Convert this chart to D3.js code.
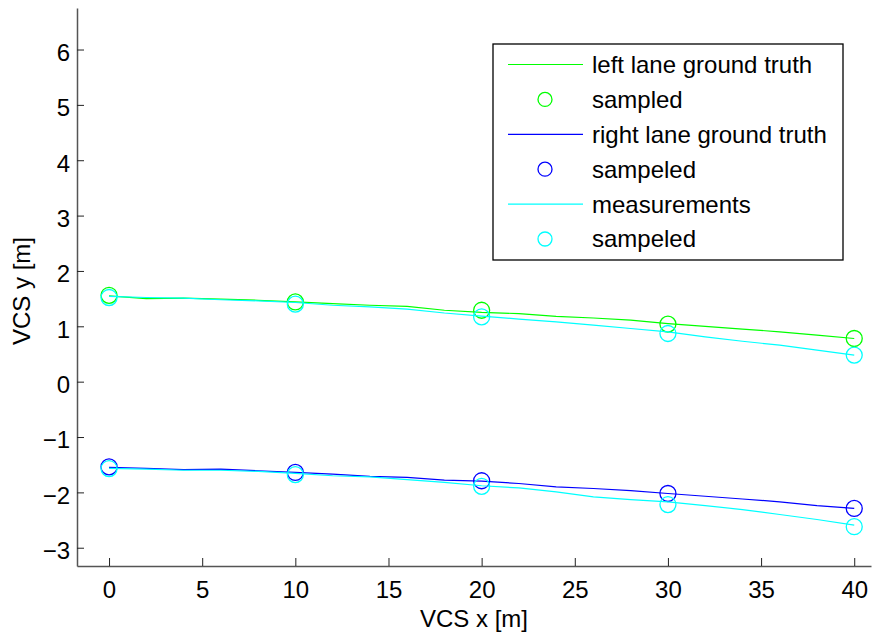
<!DOCTYPE html>
<html>
<head>
<meta charset="utf-8">
<script src="https://cdn.jsdelivr.net/npm/d3@7"></script>
<style>
    body { margin: 0; background: #fff; }
    svg text { font-family: "Liberation Sans", Arial, sans-serif; }
</style>
</head>
<body>
<script>
const width = 872, height = 633;

// line samples along VCS x [m]
const lineX = [0, 2, 4, 6, 8, 10, 12, 14, 16, 18, 20, 22, 24, 26, 28, 30, 32, 34, 36, 38, 40];
const leftTruth = [1.55, 1.50, 1.51, 1.49, 1.47, 1.44, 1.41, 1.38, 1.36, 1.29, 1.25, 1.23, 1.18, 1.15, 1.11, 1.05, 1.00, 0.95, 0.90, 0.84, 0.78];
const rightTruth = [-1.55, -1.565, -1.59, -1.58, -1.61, -1.64, -1.67, -1.71, -1.73, -1.78, -1.795, -1.84, -1.90, -1.93, -1.97, -2.02, -2.07, -2.12, -2.17, -2.24, -2.29];
const leftMeas = [1.54, 1.52, 1.51, 1.48, 1.46, 1.43, 1.38, 1.35, 1.31, 1.24, 1.185, 1.13, 1.08, 1.02, 0.96, 0.90, 0.81, 0.73, 0.66, 0.57, 0.48];
const rightMeas = [-1.565, -1.58, -1.60, -1.60, -1.62, -1.655, -1.70, -1.72, -1.77, -1.82, -1.88, -1.92, -1.99, -2.08, -2.13, -2.17, -2.24, -2.31, -2.40, -2.49, -2.59];

// sampled points
const sampleX = [0, 10, 20, 30, 40];
const leftSampled = [1.56, 1.44, 1.29, 1.04, 0.78];
const rightSampled = [-1.54, -1.64, -1.79, -2.02, -2.29];
const leftMeasSampled = [1.52, 1.40, 1.17, 0.87, 0.48];
const rightMeasSampled = [-1.57, -1.68, -1.89, -2.22, -2.62];

const xTicks = [0, 5, 10, 15, 20, 25, 30, 35, 40];
const yTicks = [-3, -2, -1, 0, 1, 2, 3, 4, 5, 6];

const legendLabels = ["left lane ground truth", "sampled", "right lane ground truth", "sampeled", "measurements", "sampeled"];
const legendKinds = ["line", "circle", "line", "circle", "line", "circle"];
const legendColors = ["#00ff00", "#00ff00", "#0000ff", "#0000ff", "#00ffff", "#00ffff"];

const svg = d3.select("body").append("svg")
    .attr("width", width)
    .attr("height", height);

const x = d3.scaleLinear().domain([-1.72, 40.9]).range([77, 871]);
const y = d3.scaleLinear().domain([-3.33, 6.75]).range([566, 8]);

const line = d3.line()
    .x(d => x(d[0]))
    .y(d => y(d[1]));

function drawSeries(xs, ys, color) {
    svg.append("path")
        .datum(xs.map((v, i) => [v, ys[i]]))
        .attr("d", line)
        .attr("fill", "none")
        .attr("stroke", color)
        .attr("stroke-width", 1.2);
}

function drawCircles(xs, ys, color) {
    svg.append("g")
        .selectAll("circle")
        .data(xs.map((v, i) => [v, ys[i]]))
        .enter().append("circle")
        .attr("cx", d => x(d[0]))
        .attr("cy", d => y(d[1]))
        .attr("r", 8)
        .attr("fill", "none")
        .attr("stroke", color)
        .attr("stroke-width", 1.3);
}

// axes
const xAxis = svg.append("g")
    .attr("transform", "translate(0,566)")
    .call(d3.axisBottom(x).tickValues(xTicks).tickSizeInner(-8).tickSizeOuter(0).tickPadding(15));
const yAxis = svg.append("g")
    .attr("transform", "translate(77,0)")
    .call(d3.axisLeft(y).tickValues(yTicks).tickSizeInner(-7).tickSizeOuter(0).tickPadding(7));

[xAxis, yAxis].forEach(g => {
    g.select(".domain").attr("stroke", "#555").attr("stroke-width", 1.5);
    g.selectAll(".tick line").attr("stroke", "#222");
    g.selectAll(".tick text").attr("font-size", 24).attr("fill", "#000")
        .attr("font-family", "Liberation Sans, Arial, sans-serif");
});
yAxis.selectAll(".tick text").attr("dy", "0.45em");

// data
drawSeries(lineX, leftTruth, "#00ff00");
drawCircles(sampleX, leftSampled, "#00ff00");
drawSeries(lineX, rightTruth, "#0000ff");
drawCircles(sampleX, rightSampled, "#0000ff");
drawSeries(lineX, leftMeas, "#00ffff");
drawSeries(lineX, rightMeas, "#00ffff");
drawCircles(sampleX, leftMeasSampled, "#00ffff");
drawCircles(sampleX, rightMeasSampled, "#00ffff");

// axis titles
svg.append("text")
    .attr("x", 474)
    .attr("y", 627)
    .attr("text-anchor", "middle")
    .attr("font-size", 24)
    .text("VCS x [m]");
svg.append("text")
    .attr("transform", "translate(30,291) rotate(-90)")
    .attr("text-anchor", "middle")
    .attr("font-size", 24)
    .text("VCS y [m]");

// legend
const legend = svg.append("g").attr("transform", "translate(493,44)");
legend.append("rect")
    .attr("width", 350)
    .attr("height", 216)
    .attr("fill", "#fff")
    .attr("stroke", "#000")
    .attr("stroke-width", 1.3);

const rows = legend.selectAll("g.row")
    .data(legendLabels)
    .enter().append("g")
    .attr("class", "row")
    .attr("transform", (d, i) => `translate(0,${20.5 + i * 34.9})`);

rows.each(function (d, i) {
    const r = d3.select(this);
    if (legendKinds[i] === "line") {
        r.append("line")
            .attr("x1", 15).attr("x2", 90)
            .attr("stroke", legendColors[i])
            .attr("stroke-width", 1.2);
    } else {
        r.append("circle")
            .attr("cx", 52).attr("r", 7)
            .attr("fill", "none")
            .attr("stroke", legendColors[i])
            .attr("stroke-width", 1.3);
    }
    r.append("text")
        .attr("x", 99)
        .attr("dy", "0.35em")
        .attr("font-size", 24)
        .text(d);
});
</script>
</body>
</html>
